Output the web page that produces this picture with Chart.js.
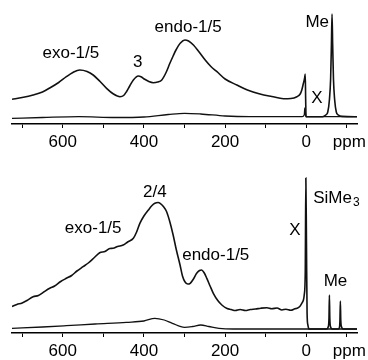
<!DOCTYPE html>
<html>
<head>
<meta charset="utf-8">
<script src="https://cdn.jsdelivr.net/npm/chart.js@4.4.1/dist/chart.umd.min.js"></script>
<style>
  body { margin: 0; background: #fff; }
  .panel { position: absolute; left: 0; }
</style>
</head>
<body>
<div class="panel" style="top:0"><canvas id="topChart" width="368" height="151"></canvas></div>
<div class="panel" style="top:170px"><canvas id="bottomChart" width="368" height="190"></canvas></div>
<script>
// spectrum values (ppm, intensity in arbitrary units)
const topUpperPpm = [725, 700, 673, 650, 632, 610, 591, 575, 558, 540, 525, 508, 492, 475, 459, 450, 443, 435, 426, 414, 406, 398, 388, 377, 366, 356, 346, 336, 328, 321, 310, 299, 290, 278, 265, 249, 235, 220, 200, 171, 145, 114, 85, 56, 38, 23, 15, 11, 7, 4, 2.5, 1.5, 0.5, -40, -48, -53, -57, -60, -62, -63.5, -65, -67, -70, -74, -79, -88, -125];
const topUpperInt = [24.7, 26.5, 29, 32, 36, 41.5, 47.3, 51.5, 54, 52.5, 49, 42.5, 35.7, 30, 27.3, 28.5, 32.3, 38, 44, 48, 47, 44.7, 42.5, 41.3, 42, 44, 51, 60.7, 68, 74, 81, 84, 83, 79, 72.5, 64, 57.5, 52.3, 45, 39, 34, 30, 27.5, 25.3, 25.5, 27.3, 30, 34, 40.7, 46, 50, 25, 7.3, 7.3, 9, 12, 24, 45, 80, 110, 80, 45, 24, 12, 9, 7.6, 7.3];

const topLowerPpm = [725, 650, 560, 470, 400, 340, 300, 260, 200, 140, 10, 5, 3.5, 2.5, 1, -125];
const topLowerInt = [5.7, 6.5, 7.3, 6.5, 7, 9.5, 10.7, 10, 8, 7.3, 7.3, 9, 16, 12, 7.3, 7.3];

const bottomUpperPpm = [725, 713, 700, 688, 673, 660, 645, 632, 620, 605, 591, 578, 565, 550, 537, 522, 509, 496, 484, 476, 465, 451, 440, 426, 418, 410, 400, 389, 380, 373, 365, 360, 352, 344, 336, 328, 320, 311, 305, 299, 292, 286, 278, 270, 263, 258, 252, 245, 237, 229, 218, 208, 195, 185, 175, 163, 150, 138, 125, 112, 97, 85, 72, 60, 50, 38, 28, 23, 16, 11, 7, 5, 2.5, 1, -0.5, -2, -4, -7, -50, -54, -56, -57, -58, -60, -64, -79, -82, -83, -84, -85, -87, -91, -125];
const bottomUpperInt = [26.5, 28.5, 30, 32.5, 36.3, 37.5, 41.5, 44.7, 47, 51.5, 54.7, 57.5, 62, 66.3, 70, 75.5, 80.3, 81.5, 84.5, 84.7, 86.5, 88, 91, 94.7, 101, 109.7, 117, 123, 127.5, 129.7, 130.5, 129.7, 126.5, 121.3, 111, 98, 83, 68, 57, 51.3, 49, 49.7, 54, 59.7, 62.5, 63, 60.5, 54.7, 47, 39.7, 32.5, 28, 24.5, 23.5, 22.5, 23.5, 22.5, 23.5, 24, 24.8, 25.3, 24.3, 25, 23, 23.8, 22.8, 24.2, 24.7, 26.5, 29.7, 33, 38, 60, 155, 90, 20, 8, 4, 4, 6, 15, 38, 15, 6, 4, 4, 6, 13, 32, 13, 6, 4, 4];

const bottomLowerPpm = [725, 650, 591, 520, 443, 400, 373, 350, 330, 300, 280, 260, 240, 215, 180, -125];
const bottomLowerInt = [4.7, 6, 7.3, 9, 10.7, 12, 14.7, 13, 9.7, 5.7, 6.5, 8, 6.5, 4.7, 4, 4];

const tickLabelValues = [600, 400, 200, 0];

const FONT = '"Liberation Sans", Arial, sans-serif';

function toPoints(xs, ys) {
    return xs.map((x, i) => ({ x: x, y: ys[i] }));
}

function textPlugin(notes) {
    return {
        id: 'notes',
        afterDraw(chart) {
            const ctx = chart.ctx;
            const xs = chart.scales.x;
            const ys = chart.scales.y;
            ctx.save();
            ctx.fillStyle = '#000';
            ctx.textBaseline = 'middle';
            notes.forEach(n => {
                const px = xs.getPixelForValue(n.ppm);
                const py = ys.getPixelForValue(n.val);
                ctx.font = '17px ' + FONT;
                ctx.textAlign = n.align || 'center';
                ctx.fillText(n.text, px, py);
                if (n.sub) {
                    const w = ctx.measureText(n.text).width;
                    ctx.font = '12px ' + FONT;
                    ctx.textAlign = 'left';
                    ctx.fillText(n.sub, px + w + 1, py + 5);
                }
            });
            // unit at the end of the axis
            ctx.font = '17px ' + FONT;
            ctx.textAlign = 'center';
            ctx.fillText('ppm', xs.getPixelForValue(-106), chart.chartArea.bottom + 18);
            ctx.restore();
        }
    };
}

function makeChart(id, upper, lower, yMax, padTop, notes) {
    const ctx = document.getElementById(id).getContext('2d');
    return new Chart(ctx, {
        type: 'line',
        data: {
            datasets: [{
                data: upper,
                borderColor: '#111',
                borderWidth: 1.6,
                pointRadius: 0,
                cubicInterpolationMode: 'monotone',
                fill: false
            }, {
                data: lower,
                borderColor: '#111',
                borderWidth: 1.3,
                pointRadius: 0,
                cubicInterpolationMode: 'monotone',
                fill: false
            }]
        },
        options: {
            responsive: false,
            animation: false,
            devicePixelRatio: 1,
            layout: { padding: { top: padTop, left: 12, right: 11, bottom: 0 } },
            plugins: { legend: { display: false }, tooltip: { enabled: false } },
            scales: {
                x: {
                    type: 'linear',
                    reverse: true,
                    min: -125,
                    max: 725,
                    afterFit: s => { s.height = 27; },
                    ticks: {
                        stepSize: 100,
                        includeBounds: false,
                        autoSkip: false,
                        maxRotation: 0,
                        padding: 4,
                        color: '#000',
                        font: { size: 17, family: FONT },
                        callback: v => tickLabelValues.includes(v) ? String(v) : ''
                    },
                    grid: { drawOnChartArea: false, tickLength: 4, color: '#000', lineWidth: 1 },
                    border: { color: '#000', width: 1.5 }
                },
                y: { display: false, min: 0, max: yMax }
            }
        },
        plugins: [textPlugin(notes)]
    });
}

makeChart('topChart',
    toPoints(topUpperPpm, topUpperInt),
    toPoints(topLowerPpm, topLowerInt),
    119, 5,
    [
        { text: 'exo-1/5', ppm: 580, val: 71 },
        { text: '3', ppm: 415, val: 62 },
        { text: 'endo-1/5', ppm: 291, val: 97 },
        { text: 'Me', ppm: -27, val: 102 },
        { text: 'X', ppm: -26, val: 26 }
    ]);

makeChart('bottomChart',
    toPoints(bottomUpperPpm, bottomUpperInt),
    toPoints(bottomLowerPpm, bottomLowerInt),
    163, 0,
    [
        { text: '2/4', ppm: 373, val: 141 },
        { text: 'exo-1/5', ppm: 525, val: 105 },
        { text: 'endo-1/5', ppm: 223, val: 78 },
        { text: 'X', ppm: 28, val: 103 },
        { text: 'SiMe', sub: '3', ppm: -17, val: 135, align: 'left' },
        { text: 'Me', ppm: -72, val: 52 }
    ]);
</script>
</body>
</html>
